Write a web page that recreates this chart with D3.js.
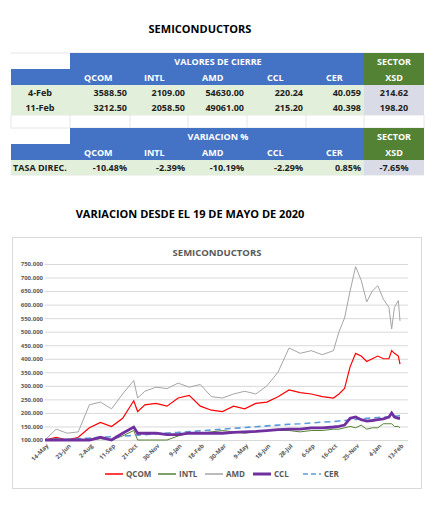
<!DOCTYPE html><html><head><meta charset="utf-8">
<script src="https://cdn.jsdelivr.net/npm/d3@7"></script>
<style>body{margin:0;background:#fff}text{font-family:"Open Sans",sans-serif;font-weight:bold}</style></head><body>
<svg id="c" width="440" height="505"></svg>
<script>
const tableCols=["QCOM","INTL","AMD","CCL","CER"];
const closeRows=[["4-Feb","3588.50","2109.00","54630.00","220.24","40.059","214.62"],["11-Feb","3212.50","2058.50","49061.00","215.20","40.398","198.20"]];
const varRow=["TASA DIREC.","-10.48%","-2.39%","-10.19%","-2.29%","0.85%","-7.65%"];
const dates=["2020-05-14","2020-06-03","2020-06-23","2020-07-13","2020-08-02","2020-08-22","2020-09-11","2020-10-01","2020-10-21","2020-10-28","2020-11-10","2020-11-30","2020-12-20","2021-01-09","2021-01-29","2021-02-18","2021-03-10","2021-03-30","2021-04-19","2021-05-09","2021-05-29","2021-06-18","2021-07-08","2021-07-28","2021-08-17","2021-09-06","2021-09-26","2021-10-16","2021-10-26","2021-11-05","2021-11-15","2021-11-25","2021-12-05","2021-12-15","2021-12-25","2022-01-04","2022-01-14","2022-01-24","2022-01-29","2022-02-03","2022-02-10","2022-02-13"];
const amd=[100,140,125,130,230,240,215,270,320,255,280,295,290,310,295,305,260,255,270,280,270,300,350,440,420,430,415,430,500,550,650,740,690,610,650,670,620,590,510,590,615,540];
const qcom=[100,110,100,110,145,165,150,180,245,205,230,235,225,255,265,225,210,205,225,215,235,240,260,285,275,270,260,255,270,290,370,420,410,390,400,410,400,400,430,420,410,380];
const intl=[100,105,100,100,100,105,100,115,135,100,100,100,100,115,125,125,130,135,130,125,130,135,135,135,130,135,135,140,140,145,150,145,155,140,145,145,160,160,160,150,150,145];
const ccl=[100,100,100,100,100,110,100,125,148,125,125,125,120,120,125,125,125,125,128,130,132,135,138,140,140,145,145,148,150,155,180,185,175,170,172,175,178,185,200,185,180,180];
const cer=[100,102,103,105,107,110,112,114,117,118,120,123,126,128,131,134,137,140,143,146,149,152,155,158,160,163,166,168,170,172,174,176,178,180,182,183,184,186,187,188,189,190];
const xTicks=["2020-05-14","2020-06-23","2020-08-02","2020-09-11","2020-10-21","2020-11-30","2021-01-09","2021-02-18","2021-03-30","2021-05-09","2021-06-18","2021-07-28","2021-09-06","2021-10-16","2021-11-25","2022-01-04","2022-02-13"];
const yTicks=[100,150,200,250,300,350,400,450,500,550,600,650,700,750];

const svg=d3.select("#c");
svg.append("text").attr("x",200).attr("y",33).attr("text-anchor","middle").attr("font-size",11).text("SEMICONDUCTORS");
const cx=[11,70,130,188,247,306,364,424];
const BLUE="#4472c4",GREEN="#548235",LG="#e2efda",GR="#d9dce6";
function rect(x0,x1,y0,y1,f){svg.append("rect").attr("x",x0).attr("y",y0).attr("width",x1-x0).attr("height",y1-y0).attr("fill",f);}
function txt(x,y,s,c,a){svg.append("text").attr("x",x).attr("y",y).attr("font-size",9).attr("fill",c||"#222").attr("text-anchor",a||"middle").text(s);}
// faint cell grid
[53,115,128,175].forEach(yy=>svg.append("line").attr("x1",11).attr("x2",424).attr("y1",yy).attr("y2",yy).attr("stroke","#e6e6e6"));
cx.forEach(xx=>svg.append("line").attr("x1",xx).attr("x2",xx).attr("y1",115).attr("y2",128).attr("stroke","#e6e6e6"));
function header(y0,title){
  rect(cx[1],cx[6],y0,y0+16,BLUE);rect(cx[0],cx[6],y0+16,y0+32,BLUE);rect(cx[6],cx[7],y0,y0+32,GREEN);
  txt(218,y0+12,title,"#fff");txt(394,y0+12,"SECTOR","#fff");txt(394,y0+28,"XSD","#fff");
  tableCols.forEach((c,i)=>txt(cx[i+1]+14+(i>=3?6:0),y0+28,c,"#fff","start"));
}
header(53,"VALORES DE CIERRE");
closeRows.forEach((r,j)=>{const y0=85+j*15;rect(cx[0],cx[6],y0,y0+15,LG);rect(cx[6],cx[7],y0,y0+15,GR);
  txt(40,y0+11,r[0]);r.slice(1,6).forEach((v,i)=>txt(cx[i+2]-3,y0+11,v,"#222","end"));txt(394,y0+11,r[6]);});
header(128,"VARIACION %");
rect(cx[0],cx[6],160,175,LG);rect(cx[6],cx[7],160,175,GR);
txt(13,171,varRow[0],"#222","start");varRow.slice(1,6).forEach((v,i)=>txt(cx[i+2]-3,171,v,"#222","end"));txt(394,171,varRow[6]);
svg.append("text").attr("x",190).attr("y",218).attr("text-anchor","middle").attr("font-size",11).text("VARIACION DESDE EL 19 DE MAYO DE 2020");

// chart
svg.append("rect").attr("x",12.5).attr("y",237.5).attr("width",409).attr("height",251).attr("fill","#fff").attr("stroke","#d9d9d9");
svg.append("text").attr("x",217).attr("y",256).attr("text-anchor","middle").attr("font-size",9.5).attr("fill","#595959").text("SEMICONDUCTORS");
const p=d3.timeParse("%Y-%m-%d");
const x=d3.scaleTime().domain([p(xTicks[0]),p(xTicks[16])]).range([45,400]);
const y=d3.scaleLinear().domain([100,750]).range([440,264]);
const g=svg.append("g");
g.append("g").attr("transform","translate(45,0)").call(d3.axisLeft(y).tickValues(yTicks).tickSize(-363).tickFormat(d=>d+".000"))
 .call(a=>{a.select(".domain").remove();a.selectAll("line").attr("stroke","#d9d9d9");a.selectAll("text").attr("font-size",6).attr("fill","#595959").attr("font-weight","normal").attr("x",-2);});
const xa=g.append("g").attr("transform","translate(0,440)").call(d3.axisBottom(x).tickValues(xTicks.map(p)).tickSize(0).tickFormat(d3.timeFormat("%-d-%b")));
xa.select(".domain").attr("stroke","#d9d9d9");
xa.selectAll("text").attr("font-size",6).attr("fill","#595959").attr("font-weight","normal").attr("text-anchor","end").attr("transform","rotate(-45)").attr("dx","-2").attr("dy","4");
const line=d3.line().x((d,i)=>x(p(dates[i]))).y(d=>y(d));
const series=[[amd,"#a5a5a5",1,null],[qcom,"#ff0000",1.2,null],[intl,"#548235",1,null],[cer,"#5b9bd5",1.6,"6,4"],[ccl,"#7030a0",2.8,null]];
series.forEach(s=>g.append("path").attr("d",line(s[0])).attr("fill","none").attr("stroke",s[1]).attr("stroke-width",s[2]).attr("stroke-dasharray",s[3]));
const leg=[["QCOM","#ff0000",1.5,null,105],["INTL","#548235",1.5,null,158],["AMD","#a5a5a5",1.5,null,205],["CCL","#7030a0",3,null,253],["CER","#5b9bd5",1.6,"5,3",303]];
leg.forEach(l=>{svg.append("line").attr("x1",l[4]).attr("x2",l[4]+18).attr("y1",474).attr("y2",474).attr("stroke",l[1]).attr("stroke-width",l[2]).attr("stroke-dasharray",l[3]);
 svg.append("text").attr("x",l[4]+21).attr("y",477).attr("font-size",8).attr("fill","#595959").text(l[0]);});
</script></body></html>
